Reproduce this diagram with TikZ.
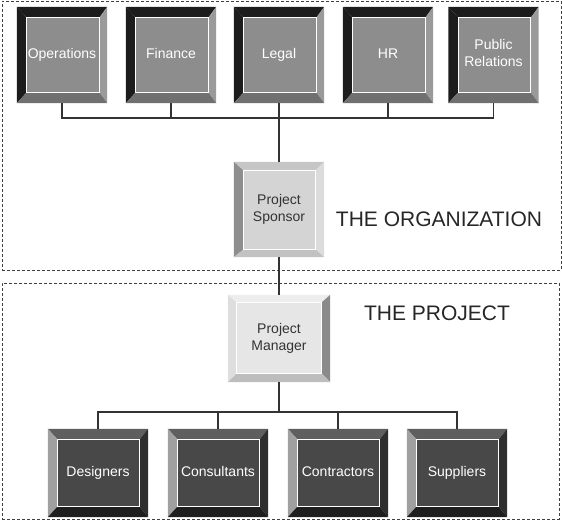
\documentclass[tikz,border=0pt]{standalone}
\usepackage{fontspec}
\setmainfont{Liberation Sans}
\usetikzlibrary{calc}
\definecolor{ATop}{HTML}{1C1C1C}\definecolor{ALeft}{HTML}{1C1C1C}\definecolor{ARight}{HTML}{9A9A9A}\definecolor{ABot}{HTML}{707070}\definecolor{AFace}{HTML}{8D8D8D}\definecolor{AText}{HTML}{FFFFFF}
\definecolor{BTop}{HTML}{C6C6C6}\definecolor{BLeft}{HTML}{8E8E8E}\definecolor{BRight}{HTML}{DCDCDC}\definecolor{BBot}{HTML}{C2C2C2}\definecolor{BFace}{HTML}{D4D4D4}\definecolor{BText}{HTML}{333333}
\definecolor{CTop}{HTML}{EDEDED}\definecolor{CLeft}{HTML}{DEDEDE}\definecolor{CRight}{HTML}{8A8A8A}\definecolor{CBot}{HTML}{BDBDBD}\definecolor{CFace}{HTML}{E6E6E6}\definecolor{CText}{HTML}{333333}
\definecolor{DTop}{HTML}{5E5E5E}\definecolor{DLeft}{HTML}{A0A0A0}\definecolor{DRight}{HTML}{2E2E2E}\definecolor{DBot}{HTML}{1E1E1E}\definecolor{DFace}{HTML}{484848}\definecolor{DText}{HTML}{FFFFFF}
\definecolor{lineC}{HTML}{333333}
\newcommand\bvL{10}\newcommand\bvT{11}\newcommand\bvR{8}\newcommand\bvB{11}
\newcommand\BevBox[6]{%
  \node[anchor=center,minimum width=#3pt,minimum height=#4pt,inner sep=0pt] (#1) at (#2) {};
  \fill[#5Top] (#1.north west) -- (#1.north east) -- ([shift={(-\bvR,\bvT)}]#1.north east) -- ([shift={(\bvL,\bvT)}]#1.north west) -- cycle;
  \fill[#5Left] (#1.north west) -- ([shift={(\bvL,\bvT)}]#1.north west) -- ([shift={(\bvL,-\bvB)}]#1.south west) -- (#1.south west) -- cycle;
  \fill[#5Right] (#1.north east) -- (#1.south east) -- ([shift={(-\bvR,-\bvB)}]#1.south east) -- ([shift={(-\bvR,\bvT)}]#1.north east) -- cycle;
  \fill[#5Bot] (#1.south west) -- (#1.south east) -- ([shift={(-\bvR,-\bvB)}]#1.south east) -- ([shift={(\bvL,-\bvB)}]#1.south west) -- cycle;
  \filldraw[fill=#5Face,draw=white,line width=1pt] ([shift={(\bvL,\bvT)}]#1.north west) rectangle ([shift={(-\bvR,-\bvB)}]#1.south east);
  \node[text=#5Text,align=center,font=\fontsize{14}{17}\selectfont] at ([yshift=0pt]#1.center) {\strut#6\strut};
}
\begin{document}
\begin{tikzpicture}[x=1pt,y=-1pt,
  conn/.style={draw=lineC,line width=1.2pt},
  region/.style={draw=black!75,line width=0.9pt,dash pattern=on 3pt off 2pt},
  title/.style={text=black!85,font=\fontsize{21}{24}\selectfont}]
\useasboundingbox (0,0) rectangle (562,524);
\node[region,minimum width=559pt,minimum height=269pt,inner sep=0pt] (org) at (281.5,135.5) {};
\node[region,minimum width=557pt,minimum height=236pt,inner sep=0pt] (prj) at (280.5,401) {};
% top row
\BevBox{ops}{62,55}{90}{96}{A}{Operations}
\BevBox{fin}{171,55}{90}{96}{A}{Finance}
\BevBox{leg}{279,55}{90}{96}{A}{Legal}
\BevBox{hr}{388,55}{90}{96}{A}{HR}
\BevBox{pr}{493.5,55}{90}{96}{A}{Public\\Relations}
\renewcommand\bvL{10}\renewcommand\bvT{9}\renewcommand\bvR{9}\renewcommand\bvB{8}
\BevBox{spon}{279,209.5}{90}{95}{B}{Project\\Sponsor}
\renewcommand\bvL{9}\renewcommand\bvT{8}\renewcommand\bvR{9}\renewcommand\bvB{9}
\BevBox{mgr}{279,338.5}{102}{87}{C}{Project\\Manager}
\renewcommand\bvL{10}\renewcommand\bvT{11}\renewcommand\bvR{9}\renewcommand\bvB{11}
\BevBox{des}{98,473}{100}{88}{D}{Designers}
\BevBox{con}{218,473}{100}{88}{D}{Consultants}
\BevBox{ctr}{338,473}{100}{88}{D}{Contractors}
\BevBox{sup}{457,473}{100}{88}{D}{Suppliers}
\node[title] (orgt) at (439,219) {THE ORGANIZATION};
\node[title] (prjt) at (437,313) {THE PROJECT};
% connectors
\coordinate (tb) at (0,118);
\coordinate (bb) at (0,412);
\draw[conn] (ops.south) -- (ops.south |- tb) -- (pr.south |- tb) -- (pr.south);
\draw[conn] (fin.south) -- (fin.south |- tb);
\draw[conn] (hr.south) -- (hr.south |- tb);
\draw[conn] (leg.south) -- (spon.north);
\draw[conn] (spon.south) -- (mgr.north);
\draw[conn] (mgr.south) -- (mgr.south |- bb);
\draw[conn] (des.north) -- (des.north |- bb) -- (sup.north |- bb) -- (sup.north);
\draw[conn] (con.north) -- (con.north |- bb);
\draw[conn] (ctr.north) -- (ctr.north |- bb);
\end{tikzpicture}
\end{document}
